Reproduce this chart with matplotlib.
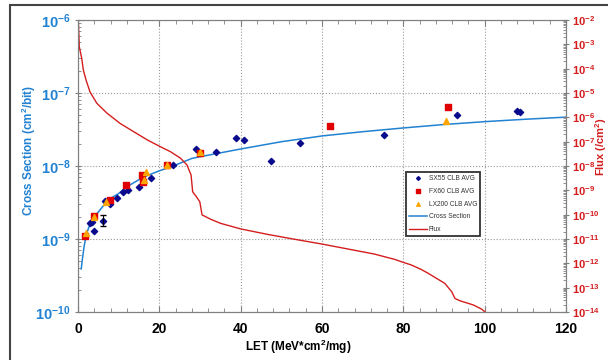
import matplotlib
matplotlib.use("Agg")
import numpy as np
from matplotlib import pyplot as plt
from matplotlib.patches import Rectangle
from matplotlib.ticker import FixedLocator, LogLocator, NullFormatter, MultipleLocator

plt.rcParams['font.family'] = ['Liberation Sans', 'DejaVu Sans']
plt.rcParams['font.weight'] = 'bold'
plt.rcParams['mathtext.fontset'] = 'custom'
plt.rcParams['mathtext.rm'] = 'Liberation Sans:bold'
plt.rcParams['mathtext.bf'] = 'Liberation Sans:bold'

# measured points (LET, cross section)
sx55_let = [2.96, 3.5, 3.95, 6.6, 7.9, 9.55, 11.0, 12.4, 15.0, 17.9, 23.4, 28.9,
            34.0, 38.9, 40.9, 47.4, 54.6, 75.3, 93.3, 107.9, 108.8]
sx55_cs = [1.67e-9, 1.73e-9, 1.27e-9, 3.3e-9, 3.0e-9, 3.7e-9, 4.4e-9, 4.7e-9, 5.1e-9,
           6.9e-9, 1.04e-8, 1.73e-8, 1.56e-8, 2.42e-8, 2.29e-8, 1.17e-8, 2.04e-8,
           2.69e-8, 5.05e-8, 5.6e-8, 5.5e-8]
err_let = [6.25]
err_cs = [1.78e-9]
err_lo = [1.5e-9]
err_hi = [2.1e-9]

fx60_let = [1.8, 3.95, 7.9, 11.85, 15.7, 16.0, 21.9, 30.0, 62.0, 90.9]
fx60_cs = [1.09e-9, 2.07e-9, 3.4e-9, 5.5e-9, 7.6e-9, 6.1e-9, 1.02e-8, 1.5e-8, 3.53e-8, 6.4e-8]

lx200_let = [2.0, 4.0, 6.9, 16.3, 16.7, 22.0, 30.1, 90.4]
lx200_cs = [1.2e-9, 2.0e-9, 3.2e-9, 6.4e-9, 8.3e-9, 1.03e-8, 1.55e-8, 4.2e-8]

# fitted cross section curve
fit_let = [0.8, 1.0, 1.5, 2.0, 3.0, 4.0, 6.0, 8.0, 10.0, 12.0, 16.0, 20.0, 23.4, 28.0,
           30.0, 40.0, 50.0, 60.0, 70.0, 80.0, 90.0, 100.0, 110.0, 120.0]
fit_cs = [3.9e-10, 4.9e-10, 7.9e-10, 1.13e-9, 1.64e-9, 2.0e-9, 2.75e-9, 3.6e-9, 4.2e-9,
          5.2e-9, 7.0e-9, 8.6e-9, 1.0e-8, 1.27e-8, 1.34e-8, 1.71e-8, 2.15e-8, 2.58e-8,
          2.95e-8, 3.32e-8, 3.7e-8, 4.05e-8, 4.37e-8, 4.67e-8]

# integral flux spectrum
flux_let = [0.07, 0.32, 0.91, 1.31, 1.98, 2.96, 4.62, 7.09, 10.37, 13.65, 16.96, 20.25,
            22.7, 25.2, 26.8, 27.8, 28.2, 29.1, 29.95, 30.5, 32.6, 35.06, 40.0, 46.6,
            53.2, 60.0, 66.3, 72.9, 77.9, 79.5, 82.0, 84.4, 86.1, 90.2, 91.9, 92.7,
            93.9, 97.2, 99.3, 100.1]
flux_val = [1.0e-2, 7.9e-4, 2.7e-4, 8.9e-5, 3.4e-5, 1.1e-5, 3.8e-6, 1.5e-6, 5.6e-7,
            2.6e-7, 1.2e-7, 6.2e-8, 3.9e-8, 2.1e-8, 1.1e-8, 4.3e-9, 8.7e-10, 5.5e-10,
            3.4e-10, 9.8e-11, 6.5e-11, 4.4e-11, 2.6e-11, 1.55e-11, 9.8e-12, 6.2e-12,
            3.9e-12, 2.4e-12, 1.45e-12, 1.17e-12, 8.5e-13, 5.6e-13, 3.9e-13, 1.5e-13,
            6.8e-14, 3.6e-14, 2.9e-14, 1.95e-14, 1.3e-14, 1.0e-14]

blue = '#2282d2'
red = '#d41e1e'
gray = '#808080'

fig = plt.figure(figsize=(6.08, 3.6), dpi=100)
ax = fig.add_axes([78 / 608, 48 / 360, 488 / 608, 292 / 360])
ax2 = ax.twinx()

# outer frame of the picture
fig.patches.append(Rectangle((10 / 608, -0.2), 1.2, 1.2 - 5 / 360, transform=fig.transFigure,
                             fill=False, edgecolor='#444444', linewidth=1.5))

ax.set_yscale('log')
ax.set_xlim(0, 120)
ax.set_ylim(1e-10, 1e-6)
ax2.set_yscale('log')
ax2.set_ylim(1e-14, 1e-2)

ax.grid(True, which='major', linestyle=':', color='#999999', linewidth=0.8)

l_fit, = ax.plot(fit_let, fit_cs, color=blue, linewidth=1.1, label='Cross Section', zorder=3)
l_flux, = ax2.plot(flux_let, flux_val, color=red, linewidth=1.0, label='Flux')

s1 = ax.scatter(sx55_let, sx55_cs, marker='D', s=10, color='#0a0a8c', label='SX55 CLB AVG', zorder=4)
ax.scatter(err_let, err_cs, marker='D', s=10, color='#0a0a8c', zorder=4)
ax.errorbar(err_let, err_cs,
            yerr=[[err_cs[0] - err_lo[0]], [err_hi[0] - err_cs[0]]],
            fmt='none', ecolor='black', elinewidth=0.8, capsize=2, zorder=4)
s2 = ax.scatter(fx60_let, fx60_cs, marker='s', s=20, color='#e00000', label='FX60 CLB AVG', zorder=5)
s3 = ax.scatter(lx200_let, lx200_cs, marker='^', s=18, color='#ffa500', label='LX200 CLB AVG', zorder=6)

# ticks
ax.xaxis.set_major_locator(MultipleLocator(20))
ax.xaxis.set_minor_locator(MultipleLocator(4))
ax.tick_params(axis='x', which='both', direction='in', top=True, color=gray)
ax.tick_params(axis='x', which='major', length=4, labelsize=10, pad=7)
ax.tick_params(axis='x', which='minor', length=3)
ax.set_xticks([0, 20, 40, 60, 80, 100, 120])
ax.set_xticklabels([str(v) for v in [0, 20, 40, 60, 80, 100, 120]], fontweight='bold')

cs_ticks = [1e-10, 1e-9, 1e-8, 1e-7, 1e-6]
ax.yaxis.set_major_locator(FixedLocator(cs_ticks))
ax.yaxis.set_minor_locator(LogLocator(base=10, subs=np.arange(2, 10)))
ax.yaxis.set_minor_formatter(NullFormatter())
ax.set_yticklabels([r'$\mathbf{10^{%d}}$' % int(np.log10(t)) for t in cs_ticks])
ax.tick_params(axis='y', which='major', direction='inout', length=5, labelsize=10.5,
               labelcolor=blue, color=gray, pad=3)
ax.tick_params(axis='y', which='minor', direction='in', length=2, color=gray)

fl_ticks = [10.0 ** e for e in range(-14, -1)]
ax2.yaxis.set_major_locator(FixedLocator(fl_ticks))
ax2.yaxis.set_minor_locator(LogLocator(base=10, subs=np.arange(2, 10), numticks=30))
ax2.yaxis.set_minor_formatter(NullFormatter())
ax2.set_yticklabels([r'$\mathbf{10^{%d}}$' % int(round(np.log10(t))) for t in fl_ticks])
ax2.tick_params(axis='y', which='major', direction='inout', length=5, labelsize=8,
                labelcolor=red, color=gray, pad=2)
ax2.tick_params(axis='y', which='minor', direction='in', length=2, color=gray)

for sp in ax.spines.values():
    sp.set_color(gray)
for sp in ax2.spines.values():
    sp.set_color(gray)

fig.text(298 / 608, 1 - 347 / 360, 'LET (MeV*cm$^{2}$/mg)', ha='center', va='center',
         fontsize=8.5, fontweight='bold')
fig.text(29 / 608, 1 - 150 / 360, 'Cross Section (cm$^{2}$/bit)', ha='center', va='center',
         rotation=90, fontsize=8.5, fontweight='bold', color=blue)
fig.text(601.5 / 608, 1 - 147 / 360, 'Flux (/cm$^{2}$)', ha='center', va='center',
         rotation=90, fontsize=8, fontweight='bold', color=red)

leg = ax.legend([s1, s2, s3, l_fit, l_flux],
                ['SX55 CLB AVG', 'FX60 CLB AVG', 'LX200 CLB AVG', 'Cross Section', 'Flux'],
                loc='upper left', bbox_to_anchor=(0.672, 0.48), fontsize=4.8,
                frameon=True, fancybox=False, handlelength=2.6, handletextpad=0.3,
                borderpad=0.5, labelspacing=0.85, markerscale=0.6, borderaxespad=0)
leg.get_frame().set_edgecolor('black')
leg.get_frame().set_linewidth(1.3)
for t in leg.get_texts():
    t.set_fontweight('normal')
    t.set_color('#333333')
leg.set_zorder(10)

fig.savefig('out.png', dpi=100)
